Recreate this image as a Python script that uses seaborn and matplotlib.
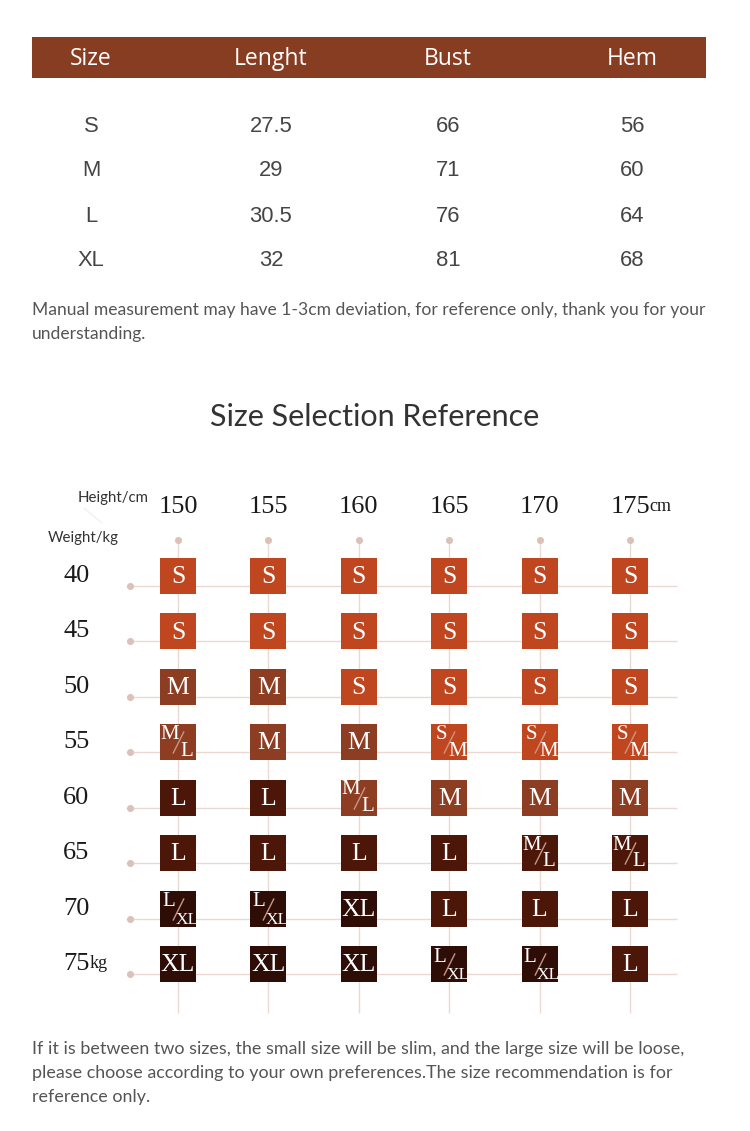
import pandas as pd
import matplotlib.pyplot as plt
import matplotlib.transforms as mtransforms
import seaborn as sns

# size table
table_header = ['Size', 'Lenght', 'Bust', 'Hem']
sizes = ['S', 'M', 'L', 'XL']
lengths = ['27.5', '29', '30.5', '32']
busts = ['66', '71', '76', '81']
hems = ['56', '60', '64', '68']

note_top = ["Manual measurement may have 1-3cm deviation, for reference only, thank you for your",
            "understanding."]
title = "Size Selection Reference"
note_bottom = ["If it is between two sizes, the small size will be slim, and the large size will be loose,",
               "please choose according to your own preferences.The size recommendation is for",
               "reference only."]

# size selection grid
heights = [150, 155, 160, 165, 170, 175]
weights = [40, 45, 50, 55, 60, 65, 70, 75]
grid_labels = [
    ['S', 'S', 'S', 'S', 'S', 'S'],
    ['S', 'S', 'S', 'S', 'S', 'S'],
    ['M', 'M', 'S', 'S', 'S', 'S'],
    ['M/L', 'M', 'M', 'S/M', 'S/M', 'S/M'],
    ['L', 'L', 'M/L', 'M', 'M', 'M'],
    ['L', 'L', 'L', 'L', 'M/L', 'M/L'],
    ['L/XL', 'L/XL', 'XL', 'L', 'L', 'L'],
    ['XL', 'XL', 'XL', 'L/XL', 'L/XL', 'L'],
]
grid_tiers = [
    ['S', 'S', 'S', 'S', 'S', 'S'],
    ['S', 'S', 'S', 'S', 'S', 'S'],
    ['M', 'M', 'S', 'S', 'S', 'S'],
    ['M', 'M', 'M', 'S', 'S', 'S'],
    ['L', 'L', 'M', 'M', 'M', 'M'],
    ['L', 'L', 'L', 'L', 'L', 'L'],
    ['XL', 'XL', 'XL', 'L', 'L', 'L'],
    ['XL', 'XL', 'XL', 'XL', 'XL', 'L'],
]
tier_colors = {'S': '#BF461F', 'M': '#8C3D22', 'L': '#4C1709', 'XL': '#2E0D07'}

rows = []
for i, w in enumerate(weights):
    for j, h in enumerate(heights):
        rows.append({'height': h, 'weight': w, 'label': grid_labels[i][j], 'tier': grid_tiers[i][j]})
cells = pd.DataFrame(rows)

sns.set_style('white')
plt.rcParams['font.family'] = ['Lato', 'DejaVu Sans']

fig = plt.figure(figsize=(7.5, 11.31), dpi=100)

# background axes in pixel units for the text blocks
bg = fig.add_axes([0, 0, 1, 1])
bg.set_xlim(0, 750)
bg.set_ylim(1131, 0)
bg.axis('off')

bg.add_patch(plt.Rectangle((32, 37), 674, 41, color='#873D22', lw=0))
col_x = [91, 271, 448, 632]
for x, name in zip(col_x, table_header):
    bg.text(x, 59, name, ha='center', va='center', color='white', fontsize=16.5,
            family=['Open Sans', 'DejaVu Sans'])
narrow = ['Liberation Sans Narrow', 'Liberation Sans', 'DejaVu Sans']
for k, vals in enumerate([sizes, lengths, busts, hems]):
    for r, v in enumerate(vals):
        bg.text(col_x[k], 126 + r * 45, v, ha='center', va='center', color='#454545',
                fontsize=15.8, family=narrow)

for n, line in enumerate(note_top):
    bg.text(32, 310 + n * 23.5, line, ha='left', va='center', color='#555555', fontsize=12.6)
bg.text(375, 417, title, ha='center', va='center', color='#333333', fontsize=22)
for n, line in enumerate(note_bottom):
    bg.text(32, 1049 + n * 24, line, ha='left', va='center', color='#555555', fontsize=12.9)

bg.text(78, 498, 'Height/cm', ha='left', va='center', color='#333333', fontsize=10.8)
bg.text(48, 538, 'Weight/kg', ha='left', va='center', color='#333333', fontsize=10.8)
bg.plot([84, 102], [508, 523], color='#EEEEEE', lw=0.8)

# grid axes: x = height (cm), y = weight (kg), squares at cell centres
ax = fig.add_axes([0, 1 - 1030 / 1131, 1, 590 / 1131])
ax.patch.set_visible(False)
ax.set_xlim(140.155, 181.637)
ax.set_ylim(80.95, 27.73)
ax.axis('off')

line_shift = ax.transData + mtransforms.ScaledTranslation(0, -0.10, fig.dpi_scale_trans)
line_col = '#EAD8D1'
dot_col = '#DAC1B9'
x_left, x_right = 147.35, 177.6
y_top, y_bottom = 36.75, 79.42

ax.hlines(weights, x_left, x_right, color=line_col, lw=1.0, transform=line_shift, zorder=1)
ax.vlines(heights, y_top, y_bottom, color=line_col, lw=1.0, zorder=1)
ax.scatter([x_left] * len(weights), weights, s=26, color=dot_col, lw=0, transform=line_shift, zorder=2)
ax.scatter(heights, [y_top] * len(heights), s=26, color=dot_col, lw=0, zorder=2)

sns.scatterplot(data=cells, x='height', y='weight', hue='tier', palette=tier_colors,
                marker='s', s=672, linewidth=0, legend=False, ax=ax, zorder=3)

serif = ['Liberation Serif', 'DejaVu Serif']
slash_marker = [(-0.5, -1.0), (0.5, 1.0)]
for _, c in cells.iterrows():
    h, w, lab = c['height'], c['weight'], c['label']
    if '/' in lab:
        a, b = lab.split('/')
        if len(b) > 1:
            ax_, ay_, bx, by, fs_b = -7, 4.8, 6.3, -8.0, 12.5
        else:
            ax_, ay_, bx, by, fs_b = -5.8, 5.8, 6.3, -6.3, 15
        ax.plot([h], [w], ls='none', marker=slash_marker, ms=16, mec='#C99683', mew=1.0, zorder=4)
        ax.annotate(a, (h, w), xytext=(ax_, ay_), textcoords='offset points', ha='center', va='center',
                    color='white', fontsize=15, family=serif, zorder=5)
        ax.annotate(b, (h, w), xytext=(bx, by), textcoords='offset points', ha='center', va='center',
                    color='white', fontsize=fs_b, family=serif, zorder=5)
    else:
        ax.annotate(lab, (h, w), xytext=(0, -0.8), textcoords='offset points', ha='center', va='center',
                    color='white', fontsize=18.5, family=serif, zorder=5)

# axis labels along the top and left
label_row_y = 33.78
for h in heights:
    t = ax.text(h, label_row_y, str(h), ha='center', va='center', color='#1A1A1A', fontsize=19, family=serif)
    if h == heights[-1]:
        ax.annotate('cm', xy=(1, 0.12), xycoords=t, ha='left', va='bottom', color='#1A1A1A',
                    fontsize=13, family=serif)
label_col_x = 143.64
for w in weights:
    t = ax.text(label_col_x, w, str(w), ha='left', va='center', color='#1A1A1A', fontsize=19, family=serif)
    if w == weights[-1]:
        ax.annotate('kg', xy=(1, 0.12), xycoords=t, ha='left', va='bottom', color='#1A1A1A',
                    fontsize=13, family=serif)

fig.savefig('out.png', dpi=100)
